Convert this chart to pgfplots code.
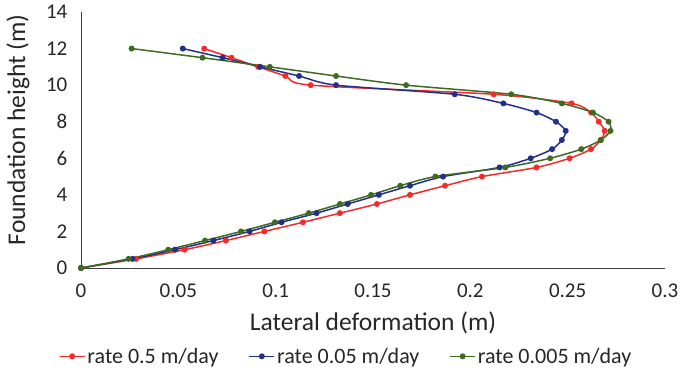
\documentclass[border=0pt]{standalone}
\usepackage{pgfplots}
\pgfplotsset{compat=1.18}
\usepackage{fontspec}
\setmainfont{Carlito}
\definecolor{cred}{HTML}{F52A2A}
\definecolor{cblue}{HTML}{22308A}
\definecolor{cgreen}{HTML}{3E6B22}
\definecolor{axgray}{HTML}{404040}
\begin{document}
\begin{tikzpicture}
\begin{axis}[
  at={(81pt,112pt)}, anchor=south west,
  scale only axis, width=584pt, height=256pt,
  xmin=0, xmax=0.3, ymin=0, ymax=14,
  xtick={0,0.05,0.1,0.15,0.2,0.25,0.3},
  xticklabels={0,0.05,0.1,0.15,0.2,0.25,0.3},
  ytick={0,2,4,6,8,10,12,14},
  axis lines=left,
  axis line style={-, axgray, line width=0.9pt},
  tick style={draw=none},
  /pgf/number format/assume math mode=true,
  ticklabel style={font=\fontsize{21}{25}\selectfont, text=black!85},
  xticklabel style={yshift=-10pt},
  yticklabel style={xshift=-8pt},
  xlabel={Lateral deformation (m)},
  ylabel={Foundation height (m)},
  label style={font=\fontsize{25.5}{30}\selectfont, text=black!85},
  xlabel style={at={(axis description cs:0.5,-0.215)}, anchor=center},
  ylabel style={at={(axis description cs:-0.108,0.54)}, anchor=center, rotate=0},
  legend columns=3,
  legend style={at={(axis description cs:0.454,-0.345)}, anchor=center, draw=none, fill=none,
    font=\fontsize{22}{26}\selectfont, text=black!85,
    /tikz/every even column/.append style={column sep=28pt},
    inner sep=0pt},
  legend cell align=left,
  legend image code/.code={
    \draw[#1, mark repeat=2, mark phase=2] plot coordinates {(0pt,0pt) (12.5pt,0pt) (25pt,0pt)};
  },
  every axis plot/.append style={line width=1.5pt, smooth, tension=0.45, mark=*, mark size=2.2pt},
  clip=false,
]
\addplot[cred, mark options={fill=cred, draw=cred}] coordinates {
(0,0) (0.0283,0.5) (0.0532,1) (0.0744,1.5) (0.0942,2) (0.114,2.5) (0.133,3) (0.152,3.5)
(0.169,4) (0.187,4.5) (0.206,5) (0.234,5.5) (0.251,6) (0.262,6.5) (0.267,7) (0.269,7.5)
(0.266,8) (0.262,8.5) (0.252,9) (0.212,9.5) (0.118,10) (0.105,10.5) (0.091,11) (0.0773,11.5) (0.0633,12)
};
\addlegendentry{rate 0.5 m/day}
\addplot[cblue, mark options={fill=cblue, draw=cblue}] coordinates {
(0,0) (0.0265,0.5) (0.0483,1) (0.068,1.5) (0.0866,2) (0.103,2.5) (0.121,3) (0.137,3.5)
(0.153,4) (0.169,4.5) (0.186,5) (0.215,5.5) (0.231,6) (0.242,6.5) (0.247,7) (0.249,7.5)
(0.244,8) (0.234,8.5) (0.217,9) (0.192,9.5) (0.131,10) (0.112,10.5) (0.092,11) (0.0728,11.5) (0.0523,12)
};
\addlegendentry{rate 0.05 m/day}
\addplot[cgreen, mark options={fill=cgreen, draw=cgreen}] coordinates {
(0,0) (0.0245,0.5) (0.0448,1) (0.0637,1.5) (0.0822,2) (0.0996,2.5) (0.117,3) (0.133,3.5)
(0.149,4) (0.164,4.5) (0.182,5) (0.218,5.5) (0.241,6) (0.257,6.5) (0.267,7) (0.272,7.5)
(0.271,8) (0.263,8.5) (0.247,9) (0.221,9.5) (0.167,10) (0.131,10.5) (0.097,11) (0.0624,11.5) (0.026,12)
};
\addlegendentry{rate 0.005 m/day}
\end{axis}
\pgfresetboundingbox
\path (0pt,0pt) rectangle (687pt,380pt);
\end{tikzpicture}
\end{document}
